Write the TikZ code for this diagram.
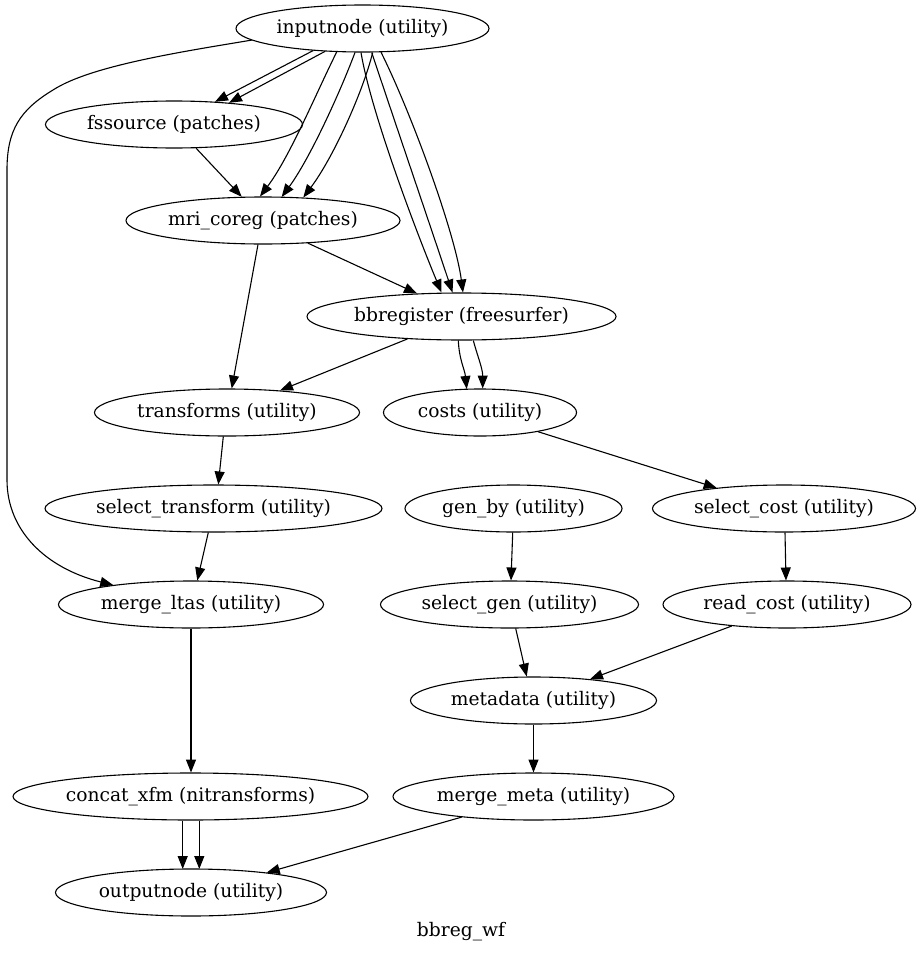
\documentclass[tikz,border=0pt]{standalone}
\usepackage{fontspec}
\setmainfont{DejaVu Serif}
\usetikzlibrary{arrows.meta,shapes.geometric}
\begin{document}
\begin{tikzpicture}[x=1pt,y=-1pt,
  nd/.style={draw, ellipse, line width=1.1pt, inner sep=0pt, minimum height=47pt, font=\fontsize{18.67}{22}\selectfont},
  ed/.style={line width=1.1pt, -{Triangle[length=13pt,width=10pt]}},
  lbl/.style={font=\fontsize{18.67}{22}\selectfont, inner sep=0pt}]
\useasboundingbox (0,0) rectangle (922,953);
% nodes
\node[nd, minimum width=253pt] (inp) at (362.5,28.5) {\makebox[0pt]{inputnode (utility)}};
\node[nd, minimum width=257pt] (fs) at (174,124.5) {\makebox[0pt]{fssource (patches)}};
\node[nd, minimum width=274pt] (mri) at (263,220.5) {\makebox[0pt]{mri\_coreg (patches)}};
\node[nd, minimum width=309pt] (bbr) at (461.5,316.5) {\makebox[0pt]{bbregister (freesurfer)}};
\node[nd, minimum width=265pt] (tr) at (227,412.5) {\makebox[0pt]{transforms (utility)}};
\node[nd, minimum width=193pt] (co) at (480,412.5) {\makebox[0pt]{costs (utility)}};
\node[nd, minimum width=337pt] (st) at (213.5,508.5) {\makebox[0pt]{select\_transform (utility)}};
\node[nd, minimum width=217pt] (gb) at (513.5,508.5) {\makebox[0pt]{gen\_by (utility)}};
\node[nd, minimum width=263pt] (sc) at (784,508.5) {\makebox[0pt]{select\_cost (utility)}};
\node[nd, minimum width=265pt] (ml) at (191,604.5) {\makebox[0pt]{merge\_ltas (utility)}};
\node[nd, minimum width=258pt] (sg) at (509.5,604.5) {\makebox[0pt]{select\_gen (utility)}};
\node[nd, minimum width=248pt] (rc) at (787,604.5) {\makebox[0pt]{read\_cost (utility)}};
\node[nd, minimum width=246pt] (md) at (533.5,700.5) {\makebox[0pt]{metadata (utility)}};
\node[nd, minimum width=355pt] (cx) at (190.5,796.5) {\makebox[0pt]{concat\_xfm (nitransforms)}};
\node[nd, minimum width=281pt] (mm) at (533.5,796.5) {\makebox[0pt]{merge\_meta (utility)}};
\node[nd, minimum width=271pt] (out) at (191,892.5) {\makebox[0pt]{outputnode (utility)}};
\node[lbl] (title) at (461,932) {bbreg\_wf};
% edges
\draw[ed] ([shift={(-49.2,22)}]inp.center) -- ([shift={(41,-22.7)}]fs.center);
\draw[ed] ([shift={(-37.5,22.9)}]inp.center) -- ([shift={(55,-21.7)}]fs.center);
\draw[ed] ([shift={(-25.8,23.5)}]inp.center) .. controls +(-20,40) and +(30,-40) .. ([shift={(-3,-24)}]mri.center);
\draw[ed] ([shift={(-7.5,24)}]inp.center) .. controls +(-15,40) and +(28,-38) .. ([shift={(18.7,-23.6)}]mri.center);
\draw[ed] ([shift={(10.2,24)}]inp.center) .. controls +(-10,40) and +(30,-40) .. ([shift={(40.3,-23)}]mri.center);
\draw[ed] ([shift={(-1.5,24)}]inp.center) .. controls +(10,60) and +(-25,-60) .. ([shift={(-20,-24)}]bbr.center);
\draw[ed] ([shift={(9.2,24)}]inp.center) .. controls +(20,60) and +(-20,-60) .. ([shift={(-9,-24)}]bbr.center);
\draw[ed] ([shift={(18.5,23.7)}]inp.center) .. controls +(30,60) and +(-8,-60) .. ([shift={(1.5,-24)}]bbr.center);
\draw[ed] ([shift={(-110.8,11.6)}]inp.center) .. controls (180,52) and (90,66) .. (53,90)
   .. controls (20,110) and (7,130) .. (7,170) -- (7,480)
   .. controls (7,530) and (45,568) .. ([shift={(-77.7,-19.4)}]ml.center);
\draw[ed] ([shift={(22,23.6)}]fs.center) -- ([shift={(-21.3,-23.7)}]mri.center);
\draw[ed] ([shift={(45,22.7)}]mri.center) -- ([shift={(-44.5,-23)}]bbr.center);
\draw[ed] ([shift={(-5,24)}]mri.center) -- ([shift={(4.7,-24)}]tr.center);
\draw[ed] ([shift={(-54.2,22.5)}]bbr.center) -- ([shift={(53,-22)}]tr.center);
\draw[ed] ([shift={(-3.2,24)}]bbr.center) .. controls +(1,20) and +(-2,-20) .. ([shift={(-13.3,-23.5)}]co.center);
\draw[ed] ([shift={(11.8,24)}]bbr.center) .. controls +(4,15) and +(0,-20) .. ([shift={(2.7,-24)}]co.center);
\draw[ed] ([shift={(58,19.2)}]co.center) -- ([shift={(-67.3,-20.6)}]sc.center);
\draw[ed] ([shift={(-3.7,24)}]tr.center) -- ([shift={(4.8,-24)}]st.center);
\draw[ed] ([shift={(-5.2,24)}]st.center) -- ([shift={(6.3,-24)}]ml.center);
\draw[ed] ([shift={(-0.8,24)}]gb.center) -- ([shift={(1.5,-24)}]sg.center);
\draw[ed] ([shift={(1,24)}]sc.center) -- ([shift={(-1,-24)}]rc.center);
\draw[ed] ([shift={(6.2,24)}]sg.center) -- ([shift={(-6.8,-24)}]md.center);
\draw[ed] ([shift={(-55.3,21.5)}]rc.center) -- ([shift={(56.5,-21.3)}]md.center);
\draw[ed] ([shift={(0,24)}]ml.center) -- ([shift={(0.5,-24)}]cx.center);
\draw[ed] ([shift={(0,24)}]md.center) -- ([shift={(0,-24)}]mm.center);
\draw[ed] ([shift={(-7.8,24)}]cx.center) -- ([shift={(-8.3,-23.5)}]out.center);
\draw[ed] ([shift={(8.8,24)}]cx.center) -- ([shift={(8.3,-23.5)}]out.center);
\draw[ed] ([shift={(-71.8,20.6)}]mm.center) -- ([shift={(75.7,-19.9)}]out.center);
\end{tikzpicture}
\end{document}
